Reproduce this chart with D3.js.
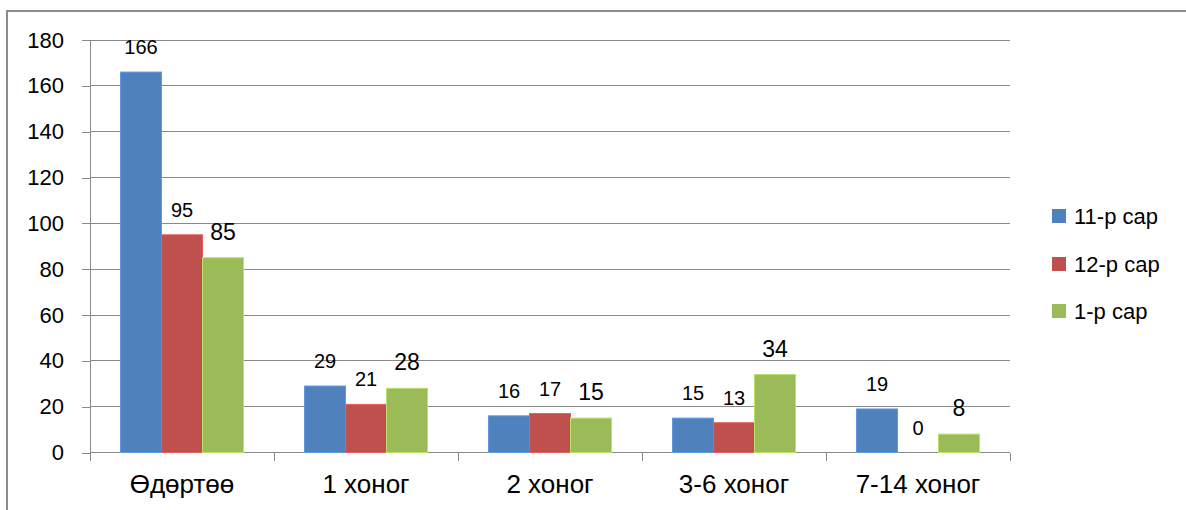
<!DOCTYPE html>
<html>
<head>
<meta charset="utf-8">
<script src="https://cdn.jsdelivr.net/npm/d3@7"></script>
<style>
  html, body { margin: 0; padding: 0; background: #fff; }
  svg { display: block; font-family: "Liberation Sans", Arial, sans-serif; }
  .grid line { stroke: #898989; stroke-width: 1; shape-rendering: crispEdges; }
  .axis line, .axis path { stroke: #898989; shape-rendering: crispEdges; }
</style>
</head>
<body>
<svg id="chart" width="1186" height="510"></svg>
<script>
// chart data
const categories = ['Өдөртөө', '1 хоног', '2 хоног', '3-6 хоног', '7-14 хоног'];
const seriesNames = ['11-р сар', '12-р сар', '1-р сар'];
const seriesColors = ['#4F81BD', '#C0504D', '#9BBB59'];
const novValues = [166, 29, 16, 15, 19];
const decValues = [95, 21, 17, 13, 0];
const janValues = [85, 28, 15, 34, 8];
const yTicks = [0, 20, 40, 60, 80, 100, 120, 140, 160, 180];

const seriesValues = [novValues, decValues, janValues];

const svg = d3.select('#chart');
const plotLeft = 90, plotRight = 1010, plotTop = 40, plotBottom = 452.5;

// outer chart border
svg.append('rect')
  .attr('x', 7).attr('y', 11)
  .attr('width', 1200).attr('height', 520)
  .attr('fill', 'none')
  .attr('stroke', '#8c8c8c')
  .attr('stroke-width', 2);

const y = d3.scaleLinear().domain([0, 180]).range([plotBottom, plotTop]);

const x0 = d3.scaleBand()
  .domain(categories)
  .range([plotLeft, plotRight])
  .paddingInner(61 / 184)
  .paddingOuter(61 / 368);

const x1 = d3.scaleBand()
  .domain(seriesNames)
  .range([0, x0.bandwidth()]);

// gridlines
svg.append('g').attr('class', 'grid')
  .selectAll('line')
  .data(yTicks)
  .join('line')
  .attr('x1', plotLeft).attr('x2', plotRight)
  .attr('y1', d => y(d)).attr('y2', d => y(d));

// y axis
const yAxis = d3.axisLeft(y).tickValues(yTicks).tickSize(8).tickSizeOuter(0).tickPadding(18);
const yg = svg.append('g').attr('class', 'axis')
  .attr('transform', `translate(${plotLeft},0)`)
  .call(yAxis);
yg.selectAll('text')
  .attr('font-size', 22)
  .attr('fill', '#000')
  .attr('font-family', '"Liberation Sans", Arial, sans-serif');

// x axis line + category boundary ticks
const xg = svg.append('g').attr('class', 'axis');
xg.append('line')
  .attr('x1', plotLeft).attr('x2', plotRight)
  .attr('y1', plotBottom).attr('y2', plotBottom);
const step = x0.step();
xg.selectAll('.xtick')
  .data(d3.range(categories.length + 1))
  .join('line')
  .attr('class', 'xtick')
  .attr('x1', i => plotLeft + step * i).attr('x2', i => plotLeft + step * i)
  .attr('y1', plotBottom).attr('y2', plotBottom + 8);

svg.append('g')
  .selectAll('text')
  .data(categories)
  .join('text')
  .attr('x', d => x0(d) + x0.bandwidth() / 2)
  .attr('y', 493)
  .attr('text-anchor', 'middle')
  .attr('font-size', 26)
  .attr('fill', '#000')
  .text(d => d);

// bars
const barData = [];
categories.forEach((c, ci) => {
  seriesNames.forEach((s, si) => {
    barData.push({ cat: c, series: s, si: si, value: seriesValues[si][ci] });
  });
});

svg.append('g')
  .selectAll('rect')
  .data(barData)
  .join('rect')
  .attr('x', d => x0(d.cat) + x1(d.series))
  .attr('y', d => y(d.value))
  .attr('width', x1.bandwidth())
  .attr('height', d => plotBottom - y(d.value))
  .attr('fill', d => seriesColors[d.si])
  .attr('stroke', d => d3.color(seriesColors[d.si]).brighter(0.5))
  .attr('stroke-width', d => d.value > 0 ? 1 : 0);

// value labels
svg.append('g')
  .selectAll('text')
  .data(barData)
  .join('text')
  .attr('x', d => x0(d.cat) + x1(d.series) + x1.bandwidth() / 2)
  .attr('y', d => y(d.value) - 18)
  .attr('text-anchor', 'middle')
  .attr('font-size', d => d.si === 2 ? 23 : 20)
  .attr('fill', '#000')
  .text(d => d.value);

// legend
const legend = svg.append('g').attr('transform', 'translate(1052,0)');
const legendY = [216, 264, 311];
seriesNames.forEach((s, i) => {
  legend.append('rect')
    .attr('x', 0).attr('y', legendY[i] - 7)
    .attr('width', 14).attr('height', 14)
    .attr('fill', seriesColors[i]);
  legend.append('text')
    .attr('x', 22).attr('y', legendY[i])
    .attr('dy', '0.35em')
    .attr('font-size', 22)
    .attr('fill', '#000')
    .text(s);
});
</script>
</body>
</html>
